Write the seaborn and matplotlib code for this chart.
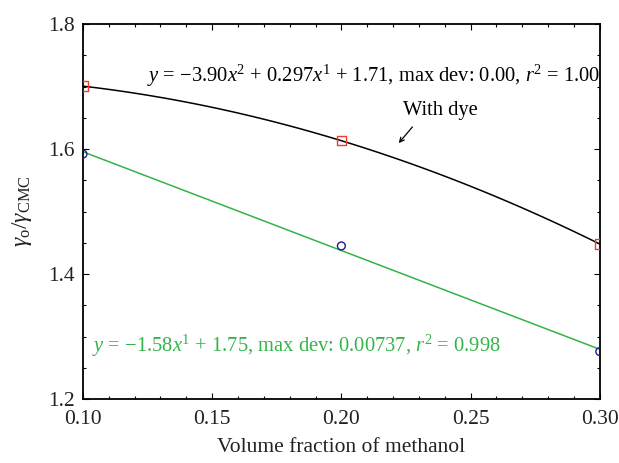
import numpy as np
import pandas as pd
import seaborn as sns
import matplotlib
matplotlib.use("Agg")
import matplotlib.pyplot as plt
from matplotlib.ticker import MultipleLocator

# Volume fraction of methanol and the surface-tension ratio with / without dye
methanol = [0.10, 0.20, 0.30]
ratio_with_dye = [1.7007, 1.6134, 1.4481]
ratio_without_dye = [1.592, 1.44505, 1.276]

x_ticks = [0.10, 0.15, 0.20, 0.25, 0.30]
y_ticks = [1.2, 1.4, 1.6, 1.8]

sns.set_theme(style="ticks")
plt.rcParams["font.family"] = ["Liberation Serif", "DejaVu Serif"]
plt.rcParams["mathtext.fontset"] = "custom"
plt.rcParams["mathtext.rm"] = "Liberation Serif"
plt.rcParams["mathtext.it"] = "Liberation Serif:italic"
plt.rcParams["mathtext.bf"] = "Liberation Serif:bold"

RED = "#ee3b2a"
BLUE = "#1f1f8f"
GREEN = "#33b449"

df = pd.DataFrame({"x": methanol, "dye": ratio_with_dye, "nodye": ratio_without_dye})

fig = plt.figure(figsize=(6.19, 4.63), dpi=100)
ax = fig.add_axes([0.134, 0.138, 0.835, 0.810])

# polynomial fits, drawn by regplot
sns.regplot(data=df, x="x", y="dye", order=2, ci=None, scatter=False,
            color="black", line_kws={"lw": 1.1}, ax=ax)
sns.regplot(data=df, x="x", y="nodye", order=1, ci=None, scatter=False,
            color=GREEN, line_kws={"lw": 1.1}, ax=ax)

sns.scatterplot(data=df, x="x", y="dye", marker="s", s=45, facecolor="none",
                edgecolor=RED, linewidth=1.0, ax=ax, zorder=5)
sns.scatterplot(data=df, x="x", y="nodye", marker="o", s=32, facecolor="none",
                edgecolor=BLUE, linewidth=1.0, ax=ax, zorder=5)


def fit_stats(x, y, deg):
    x = np.asarray(x)
    y = np.asarray(y)
    c = np.polyfit(x, y, deg)
    pred = np.polyval(c, x)
    md = np.max(np.abs(y - pred))
    r2 = 1 - np.sum((y - pred) ** 2) / np.sum((y - y.mean()) ** 2)
    return c, md, r2


def num(v, fmt):
    s = format(v, fmt)
    return s.replace("-", "\u2212")


c2, md2, r22 = fit_stats(methanol, ratio_with_dye, 2)
c1, md1, r21 = fit_stats(methanol, ratio_without_dye, 1)

label_dye = (f"$y$ = {num(c2[0], '.2f')}$x^2$ + {num(c2[1], '.3f')}$x^1$ + "
             f"{num(c2[2], '.2f')}, max dev: {md2:.2f}, $r^2$ = {r22:.2f}")
label_nodye = (f"$y$ = {num(c1[0], '.2f')}$x^1$ + {num(c1[1], '.2f')}, "
               f"max dev: {md1:.5f}, $r^2$ = {r21:.3f}")

FS = 14.8
ax.text(0.1248, 1.717, label_dye, fontsize=FS, color="black",
        ha="left", va="center")
ax.text(0.1035, 1.285, label_nodye, fontsize=FS, color=GREEN,
        ha="left", va="center")
ax.text(0.2238, 1.661, "With dye", fontsize=FS, color="black",
        ha="left", va="center")
ax.annotate("", xy=(0.2222, 1.6096), xytext=(0.2275, 1.6355),
            arrowprops=dict(arrowstyle="->", lw=0.9, color="black",
                            shrinkA=0, shrinkB=0, mutation_scale=8))

ax.set_xlim(0.10, 0.30)
ax.set_ylim(1.2, 1.8)
ax.set_xticks(x_ticks)
ax.set_yticks(y_ticks)
ax.set_xticklabels([f"{v:.2f}" for v in x_ticks])
ax.set_yticklabels([f"{v:.1f}" for v in y_ticks])
ax.xaxis.set_minor_locator(MultipleLocator(0.01))
ax.yaxis.set_minor_locator(MultipleLocator(0.05))
ax.tick_params(which="both", direction="in", top=True, right=True,
               color="black", labelsize=15.5, width=0.8, labelcolor="#222222")
ax.tick_params(which="major", length=4, pad=6)
ax.tick_params(axis="x", which="major", pad=8)
ax.tick_params(which="minor", length=2.5)
for s in ax.spines.values():
    s.set_visible(True)
    s.set_linewidth(1.3)
    s.set_color("black")

ax.set_xlabel("Volume fraction of methanol", fontsize=15.5, labelpad=6,
              color="#222222")
ax.set_ylabel(r"$\gamma_{\mathrm{o}}/\gamma_{\mathrm{CMC}}$", fontsize=17,
              labelpad=10, color="#222222")

fig.savefig("out.png", dpi=100)
